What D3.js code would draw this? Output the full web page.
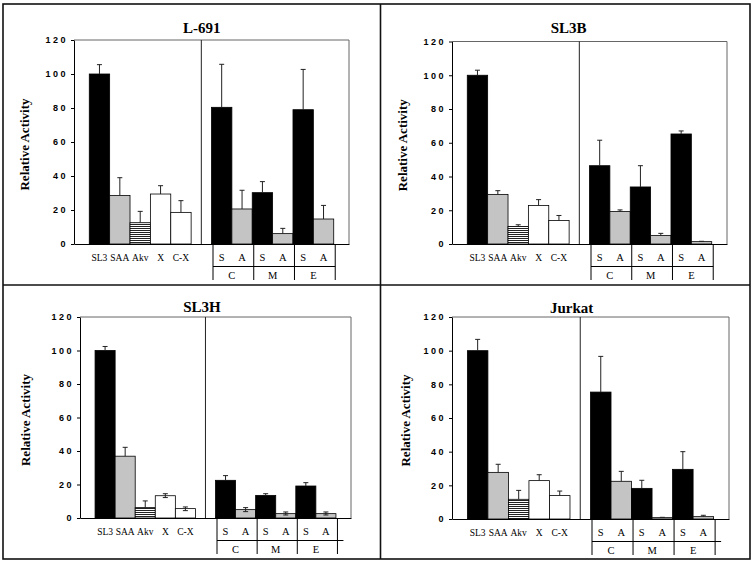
<!DOCTYPE html>
<html>
<head>
<meta charset="utf-8">
<script src="https://cdn.jsdelivr.net/npm/d3@7"></script>
<style>
  html, body { margin: 0; padding: 0; background: #fff; }
  svg { display: block; }
</style>
</head>
<body>
<svg id="chart" width="753" height="563"></svg>
<script>
// ---------------- DATA ----------------
const panelTitles = ["L-691", "SL3B", "SL3H", "Jurkat"];
const leftCategories = ["SL3", "SAA", "Akv", "X", "C-X"];
const rightSubLabels = ["S", "A", "S", "A", "S", "A"];
const rightGroups = ["C", "M", "E"];
const yTicks = [0, 20, 40, 60, 80, 100, 120];
const yLabel = "Relative Activity";

// order: SL3, SAA, Akv, X, C-X, C-S, C-A, M-S, M-A, E-S, E-A
const l691Values  = [100, 28.5, 12.5, 29.4, 18.6, 80.4, 20.6, 30.2, 6.1, 79.0, 14.7];
const l691ErrUp   = [5.5, 10.5, 6.7, 4.9, 6.9, 25.3, 11.0, 6.5, 3.1, 23.7, 8.0];
const l691ErrDown = [0, 0, 0, 0, 0, 0, 0, 0, 0, 0, 0];

const sl3bValues  = [100, 29.4, 10.4, 22.8, 13.9, 46.4, 19.2, 33.8, 5.1, 65.2, 1.4];
const sl3bErrUp   = [3.0, 2.2, 1.0, 3.5, 3.0, 15.1, 1.0, 12.6, 1.2, 1.8, 0.2];
const sl3bErrDown = [0, 0, 0, 0, 0, 0, 0, 0, 0, 0, 0];

const sl3hValues  = [100, 36.9, 6.2, 13.3, 5.6, 22.5, 5.0, 13.5, 2.6, 19.1, 2.6];
const sl3hErrUp   = [2.4, 5.3, 4.0, 1.2, 1.0, 2.8, 1.2, 1.0, 1.0, 2.0, 1.0];
const sl3hErrDown = [0, 0, 0, 1.1, 1.2, 0, 1.2, 0, 0.8, 0, 0.8];

const jurkatValues  = [100, 27.7, 11.7, 22.8, 13.9, 75.4, 22.4, 18.2, 0.8, 29.5, 1.4];
const jurkatErrUp   = [6.7, 4.8, 5.3, 3.5, 2.7, 21.2, 5.9, 4.8, 0.2, 10.5, 0.8];
const jurkatErrDown = [0, 0, 0, 0, 0, 0, 0, 0, 0, 0, 0];

// ---------------- LAYOUT ----------------
const panels = [
  { title: panelTitles[0], values: l691Values, up: l691ErrUp, down: l691ErrDown,
    left: 74, right: 349, top: 40, bottom: 244, titleX: 201.7, titleY: 33.3, yLabX: 29.3, tableExt: 0 },
  { title: panelTitles[1], values: sl3bValues, up: sl3bErrUp, down: sl3bErrDown,
    left: 452, right: 727, top: 41.5, bottom: 244, titleX: 568.7, titleY: 33.3, yLabX: 406.7, tableExt: 0 },
  { title: panelTitles[2], values: sl3hValues, up: sl3hErrUp, down: sl3hErrDown,
    left: 80, right: 351, top: 317, bottom: 518, titleX: 202, titleY: 312.3, yLabX: 30.3, tableExt: 6 },
  { title: panelTitles[3], values: jurkatValues, up: jurkatErrUp, down: jurkatErrDown,
    left: 452, right: 729, top: 317, bottom: 519, titleX: 571.7, titleY: 312.7, yLabX: 409.7, tableExt: 6 }
];

const SERIF = "'Liberation Serif', 'Times New Roman', Times, serif";
const SANS = "'Liberation Sans', Arial, Helvetica, sans-serif";
const GRAY = "#c4c4c4";

const svg = d3.select("#chart");

// patterns
const defs = svg.append("defs");
const pat = defs.append("pattern").attr("id", "stripes")
  .attr("patternUnits", "userSpaceOnUse").attr("width", 4).attr("height", 2);
pat.append("rect").attr("width", 4).attr("height", 2).attr("fill", "#fff");
pat.append("rect").attr("width", 4).attr("height", 1).attr("fill", "#222");

// outer frame and panel dividers
const frame = svg.append("g").attr("stroke", "#111").attr("stroke-width", 1.6).attr("fill", "none");
frame.append("rect").attr("x", 3).attr("y", 4).attr("width", 747).attr("height", 555);
frame.append("line").attr("x1", 380.5).attr("x2", 380.5).attr("y1", 4).attr("y2", 559);
frame.append("line").attr("x1", 3).attr("x2", 750).attr("y1", 285).attr("y2", 285);

function fillFor(i) {
  if (i === 0) return "#000";
  if (i === 1) return GRAY;
  if (i === 2) return "url(#stripes)";
  if (i === 3 || i === 4) return "#fff";
  return (i - 5) % 2 === 0 ? "#000" : GRAY;
}
function slotOf(i) { return i < 5 ? i : i + 1; }

panels.forEach(p => {
  const g = svg.append("g");
  const x = d3.scaleBand().domain(d3.range(12)).range([p.left, p.right])
    .paddingInner(0).paddingOuter(0.75);
  const y = d3.scaleLinear().domain([0, 120]).range([p.bottom, p.top]);
  const bw = x.bandwidth();

  // plot frame (top & right)
  g.append("path")
    .attr("d", `M${p.left},${p.top}H${p.right}V${p.bottom}`)
    .attr("fill", "none").attr("stroke", "#666").attr("stroke-width", 1);

  // divider
  const divX = x(5) + bw / 2;
  g.append("line").attr("x1", divX).attr("x2", divX).attr("y1", p.top).attr("y2", p.bottom)
    .attr("stroke", "#222").attr("stroke-width", 1);

  // bars
  const data = p.values.map((v, i) => ({ v, i, up: p.up[i], down: p.down[i] }));
  g.selectAll("rect.bar").data(data).join("rect").attr("class", "bar")
    .attr("x", d => x(slotOf(d.i)))
    .attr("y", d => y(d.v))
    .attr("width", bw)
    .attr("height", d => y(0) - y(d.v))
    .attr("fill", d => fillFor(d.i))
    .attr("stroke", "#000").attr("stroke-width", 0.8);

  // error bars
  const eg = g.append("g").attr("stroke", "#222").attr("stroke-width", 1);
  data.forEach(d => {
    const cx = x(slotOf(d.i)) + bw / 2;
    const yTop = y(d.v + d.up);
    const yBot = y(d.v - d.down);
    eg.append("line").attr("x1", cx).attr("x2", cx).attr("y1", yTop).attr("y2", d.down > 0 ? yBot : y(d.v));
    eg.append("line").attr("x1", cx - 2.5).attr("x2", cx + 2.5).attr("y1", yTop).attr("y2", yTop);
    if (d.down > 0) {
      eg.append("line").attr("x1", cx - 2.5).attr("x2", cx + 2.5).attr("y1", yBot).attr("y2", yBot);
    }
  });

  // y axis
  const ya = g.append("g").attr("transform", `translate(${p.left},0)`)
    .call(d3.axisLeft(y).tickValues(yTicks).tickSize(3).tickPadding(3).tickSizeOuter(0));
  ya.select(".domain").attr("stroke", "#000");
  ya.selectAll(".tick line").attr("stroke", "#000");
  ya.selectAll("text").attr("font-family", SANS).attr("font-weight", "bold")
    .attr("font-size", 9).attr("letter-spacing", "2.5px").attr("fill", "#000");

  // x axis baseline
  const xa = g.append("g").attr("transform", `translate(0,${p.bottom})`)
    .call(d3.axisBottom(x).tickValues([]).tickSizeOuter(0));
  xa.select(".domain").attr("stroke", "#000");

  // left category labels
  g.selectAll("text.cat").data(leftCategories).join("text").attr("class", "cat")
    .attr("x", (d, i) => x(i) + bw / 2).attr("y", p.bottom + 16.5)
    .attr("text-anchor", "middle").attr("font-family", SERIF).attr("font-size", 9.5)
    .text(d => d);

  // right S/A labels
  g.selectAll("text.sub").data(rightSubLabels).join("text").attr("class", "sub")
    .attr("x", (d, i) => x(i + 6) + bw / 2).attr("y", p.bottom + 16.5)
    .attr("text-anchor", "middle").attr("font-family", SERIF).attr("font-size", 10.5)
    .text(d => d);

  // table lines
  const tg = g.append("g").attr("stroke", "#000").attr("stroke-width", 1);
  const bounds = [x(6), x(8), x(10), x(11) + bw].map(v => v + 1.5);
  bounds.forEach(bx => {
    tg.append("line").attr("x1", bx).attr("x2", bx).attr("y1", p.bottom).attr("y2", p.bottom + 36);
  });
  tg.append("line").attr("x1", bounds[0]).attr("x2", bounds[3] + p.tableExt)
    .attr("y1", p.bottom + 22.5).attr("y2", p.bottom + 22.5);

  // group labels
  g.selectAll("text.grp").data(rightGroups).join("text").attr("class", "grp")
    .attr("x", (d, i) => x(6 + 2 * i) + bw)
    .attr("y", p.bottom + 35)
    .attr("text-anchor", "middle").attr("font-family", SERIF).attr("font-size", 10.5)
    .text(d => d);

  // title
  g.append("text").attr("x", p.titleX).attr("y", p.titleY)
    .attr("text-anchor", "middle").attr("font-family", SERIF).attr("font-weight", "bold")
    .attr("font-size", 15).text(p.title);

  // y label
  g.append("text")
    .attr("transform", `translate(${p.yLabX},${(p.top + p.bottom) / 2 + 2.5}) rotate(-90)`)
    .attr("text-anchor", "middle").attr("font-family", SERIF).attr("font-weight", "bold")
    .attr("font-size", 13).text(yLabel);
});
</script>
</body>
</html>
